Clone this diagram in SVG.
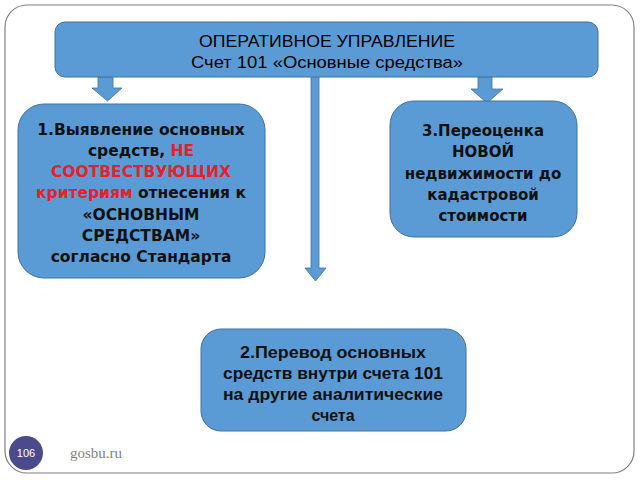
<svg xmlns="http://www.w3.org/2000/svg" width="640" height="480" viewBox="0 0 640 480">
<style>
.box{fill:#5B9BD5;stroke:#41719C;stroke-width:1}
.arr{fill:#5B9BD5;stroke:#41719C;stroke-width:0.8}
.hd{font-family:"Liberation Sans",Arial,sans-serif;font-size:16px;fill:#000;text-anchor:middle}
.vb{font-family:"DejaVu Sans",Verdana,sans-serif;font-weight:bold;font-size:15.5px;fill:#111;text-anchor:middle}
.v3{font-size:15px}
.cb{font-family:"Liberation Sans",Arial,sans-serif;font-weight:bold;font-size:16px;fill:#111;text-anchor:middle}
.red{fill:#E8202A}
</style>
<rect x="5" y="5" width="629" height="468" rx="22" fill="#fff" stroke="#808080" stroke-width="1.2"/>
<g id="connectors">
<polygon class="arr" points="98,77 113,77 113,88 122,88 107.5,101 92,88 98,88"/>
<polygon class="arr" points="478,77 492,77 492,89 503,89 487,103 471,89 478,89"/>
<polygon class="arr" points="311,72 319,72 319,268 326,268 315.5,281 305,268 311,268"/>
</g>
<g id="top">
<rect class="box" x="55" y="22" width="543" height="55" rx="10"/>
<text class="hd" x="327" y="47" textLength="256" lengthAdjust="spacingAndGlyphs">ОПЕРАТИВНОЕ УПРАВЛЕНИЕ</text>
<text class="hd" x="327" y="68" textLength="272" lengthAdjust="spacingAndGlyphs">Счет 101 «Основные средства»</text>
</g>
<g id="node1">
<rect class="box" x="18" y="104" width="247" height="174" rx="26"/>
<text class="vb" x="141" y="135">1.Выявление основных</text>
<text class="vb" x="141" y="156">средств, <tspan class="red">НЕ</tspan></text>
<text class="vb red" x="141" y="177">СООТВЕСТВУЮЩИХ</text>
<text class="vb" x="141" y="198"><tspan class="red">критериям</tspan> отнесения к</text>
<text class="vb" x="141" y="220">«ОСНОВНЫМ</text>
<text class="vb" x="141" y="241">СРЕДСТВАМ»</text>
<text class="vb" x="141" y="262">согласно Стандарта</text>
</g>
<g id="node3">
<rect class="box" x="390" y="101" width="187" height="136" rx="24"/>
<text class="vb v3" x="483" y="136">3.Переоценка</text>
<text class="vb v3" x="483" y="157">НОВОЙ</text>
<text class="vb v3" x="483" y="179">недвижимости до</text>
<text class="vb v3" x="483" y="200">кадастровой</text>
<text class="vb v3" x="483" y="221">стоимости</text>
</g>
<g id="node2">
<rect class="box" x="201" y="329" width="265" height="102" rx="20"/>
<text class="cb" x="333" y="358" textLength="186" lengthAdjust="spacingAndGlyphs">2.Перевод основных</text>
<text class="cb" x="333" y="379" textLength="220" lengthAdjust="spacingAndGlyphs">средств внутри счета 101</text>
<text class="cb" x="333" y="400" textLength="220" lengthAdjust="spacingAndGlyphs">на другие аналитические</text>
<text class="cb" x="333" y="421">счета</text>
</g>
<g id="footer">
<circle cx="26" cy="453" r="17" fill="#4A4A8C"/>
<text x="26" y="457" font-family="Liberation Sans Narrow,Liberation Sans,sans-serif" font-size="11" fill="#fff" text-anchor="middle">106</text>
<text x="70" y="458" font-family="Liberation Serif,serif" font-size="15" fill="#7F7F7F">gosbu.ru</text>
</g>
</svg>
